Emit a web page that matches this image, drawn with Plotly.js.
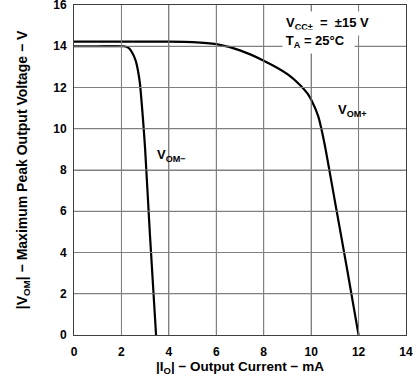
<!DOCTYPE html>
<html><head><meta charset="utf-8">
<script src="https://cdn.plot.ly/plotly-3.0.1.min.js"></script>
<style>html,body{margin:0;padding:0;background:#fff}#chart{width:413px;height:376px}
#chart text{font-weight:bold !important}</style>
</head><body><div id="chart"></div>
<script>
// V_OM+ curve (output current mA, voltage V)
const vomPlusI = [0, 2, 4, 5, 6, 7, 8, 9, 9.55, 9.85, 10.05, 10.3, 10.56, 11.0, 11.5, 12.0];
const vomPlusV = [14.22, 14.22, 14.22, 14.2, 14.1, 13.8, 13.3, 12.65, 12.1, 11.7, 11.3, 10.6, 9.3, 6.5, 3.3, 0];
// V_OM- curve (output current mA, voltage V)
const vomMinusI = [0, 1, 2.1, 2.3, 2.45, 2.6, 2.7, 2.78, 2.85, 2.92, 3.0, 3.2, 3.46];
const vomMinusV = [14.0, 14.0, 14.0, 13.92, 13.7, 13.3, 12.8, 12.2, 11.3, 10.3, 9.0, 4.9, 0];
// tick values
const xTicks = [0, 2, 4, 6, 8, 10, 12, 14];
const yTicks = [0, 2, 4, 6, 8, 10, 12, 14, 16];

const fam = 'Liberation Sans, Arial, sans-serif';
const gridColor = '#808080';
const nb = '\u00a0';
const traces = [
  {x: vomPlusI, y: vomPlusV, mode: 'lines', line: {color: '#000', width: 2.2, shape: 'spline', smoothing: 0.6}},
  {x: vomMinusI, y: vomMinusV, mode: 'lines', line: {color: '#000', width: 2.2, shape: 'spline', smoothing: 0.6}}
];
const gridShapes = xTicks.slice(1, -1).map(function(t){
  return {type: 'line', xref: 'x', yref: 'paper', x0: t, x1: t, y0: 0, y1: 1, layer: 'above', line: {color: gridColor, width: 1}};
}).concat(yTicks.slice(1, -1).map(function(t){
  return {type: 'line', xref: 'paper', yref: 'y', x0: 0, x1: 1, y0: t, y1: t, layer: 'above', line: {color: gridColor, width: 1}};
}));
const layout = {
  width: 413, height: 376,
  margin: {l: 74, r: 7, t: 5, b: 41},
  showlegend: false,
  paper_bgcolor: '#fff', plot_bgcolor: 'rgba(0,0,0,0)',
  font: {family: fam, size: 12, color: '#000'},
  xaxis: {range: [0, 14], tickmode: 'linear', tick0: 0, dtick: 2, showgrid: true, gridcolor: gridColor, gridwidth: 1,
    showline: true, linecolor: '#404040', mirror: true, zeroline: false, ticklabelstandoff: 6,
    title: {text: '|I<sub>O</sub>| − Output Current − mA', font: {size: 13.5}, standoff: 2}},
  yaxis: {range: [0, 16], tickmode: 'linear', tick0: 0, dtick: 2, showgrid: true, gridcolor: gridColor, gridwidth: 1,
    showline: true, linecolor: '#404040', mirror: true, zeroline: false, ticklabelstandoff: 4, ticklabeloverflow: 'allow',
    title: {text: nb + nb + nb + nb + '|V<sub>OM</sub>| − Maximum Peak Output Voltage − V', font: {size: 14}, standoff: 22}},
  shapes: gridShapes,
  annotations: [
    {x: 8.75, y: 15.1, xref: 'x', yref: 'y', text: 'V<sub>CC±</sub>' + nb + nb + '=' + nb + nb + '±15 V', showarrow: false,
     xanchor: 'left', yanchor: 'middle', bgcolor: '#fff', borderpad: 3, font: {size: 13}},
    {x: 8.75, y: 14.22, xref: 'x', yref: 'y', text: 'T<sub>A</sub> = 25°C' + nb + nb, showarrow: false,
     xanchor: 'left', yanchor: 'middle', bgcolor: '#fff', borderpad: 3, font: {size: 13}},
    {x: 3.4, y: 8.72, xref: 'x', yref: 'y', text: 'V<sub>OM−</sub>', showarrow: false, xanchor: 'left', font: {size: 13}},
    {x: 11.05, y: 10.9, xref: 'x', yref: 'y', text: 'V<sub>OM+</sub>', showarrow: false, xanchor: 'left', font: {size: 13}}
  ]
};
Plotly.newPlot('chart', traces, layout, {staticPlot: true});
</script></body></html>
